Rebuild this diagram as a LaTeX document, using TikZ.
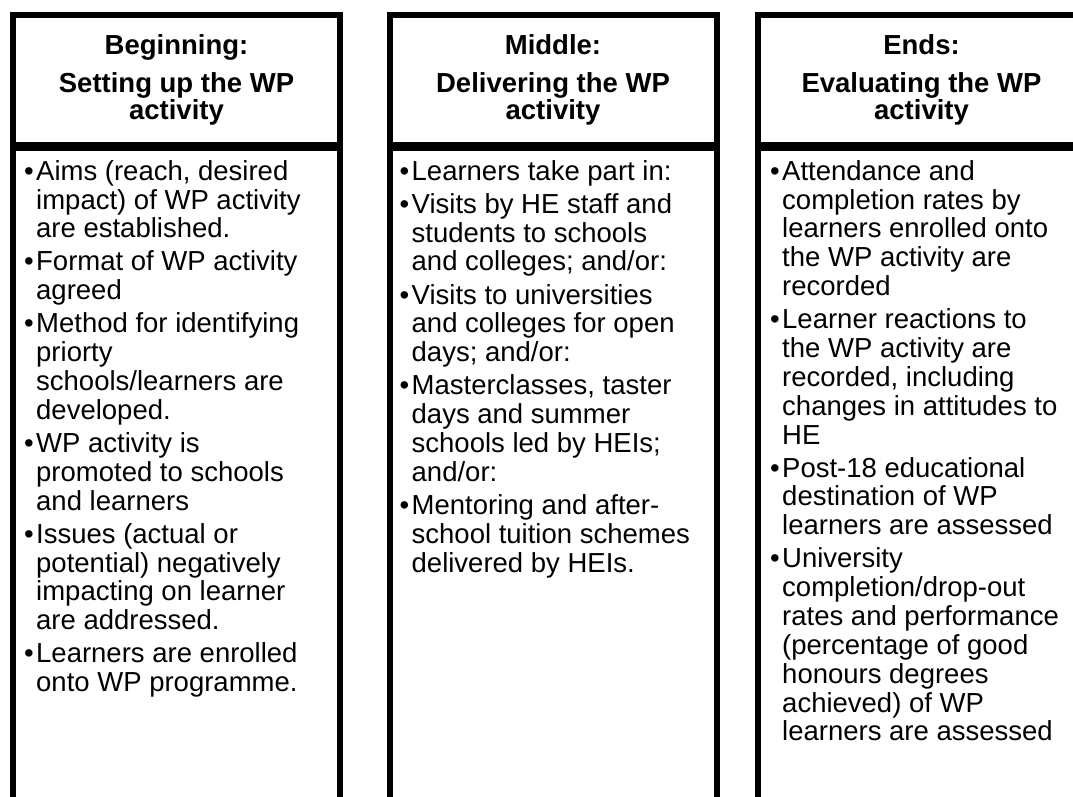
\documentclass[tikz,border=0pt]{standalone}
\usepackage{fontspec}
\setmainfont{Liberation Sans}
\usetikzlibrary{positioning}

\begin{document}
\begin{tikzpicture}[
    x=1pt, y=-1pt,
    % Define styles
    stagehead/.style={rectangle, draw=black, fill=white, line width=6pt, outer sep=0pt, inner sep=0pt, minimum width=327pt, minimum height=130pt, align=center, font=\fontsize{27.5}{27.5}\selectfont\bfseries},
    stagebody/.style={rectangle, draw=black, fill=white, line width=6pt, outer sep=0pt, minimum width=327pt, minimum height=700pt},
    itemlist/.style={anchor=north west, inner sep=0pt, align=left, font=\fontsize{27.5}{28.85}\selectfont}
]
\newcommand{\bul}{\llap{\textbullet\hspace{2.5pt}}}

\useasboundingbox (0,0) rectangle (1073,796);
\clip (0,0) rectangle (1073,796);

% Beginning column
\node[stagehead] (beginhead) at (176.5, 80) {Beginning:\\[10.5pt]Setting up the WP\\activity};
\node[stagebody, below=3pt of beginhead] (beginbody) {};
\node[itemlist, xshift=23pt, yshift=-11.8pt] (beginitems) at (beginbody.north west) {\strut\bul Aims (reach, desired\\
impact) of WP activity\\
are established.\\[4.2pt]
\bul Format of WP activity\\
agreed\\[4.2pt]
\bul Method for identifying\\
priorty\\
schools/learners are\\
developed.\\[4.2pt]
\bul WP activity is\\
promoted to schools\\
and learners\\[4.2pt]
\bul Issues (actual or\\
potential) negatively\\
impacting on learner\\
are addressed.\\[4.2pt]
\bul Learners are enrolled\\
onto WP programme.};

% Middle column
\node[stagehead] (middlehead) at (553, 80) {Middle:\\[10.5pt]Delivering the WP\\activity};
\node[stagebody, below=3pt of middlehead] (middlebody) {};
\node[itemlist, xshift=22pt, yshift=-11.8pt] (middleitems) at (middlebody.north west) {\strut\bul Learners take part in:\\[4.2pt]
\bul Visits by HE staff and\\
students to schools\\
and colleges; and/or:\\[4.2pt]
\bul Visits to universities\\
and colleges for open\\
days; and/or:\\[4.2pt]
\bul Masterclasses, taster\\
days and summer\\
schools led by HEIs;\\
and/or:\\[4.2pt]
\bul Mentoring and after-\\
school tuition schemes\\
delivered by HEIs.};

% Ends column
\node[stagehead] (endshead) at (921.5, 80) {Ends:\\[10.5pt]Evaluating the WP\\activity};
\node[stagebody, below=3pt of endshead] (endsbody) {};
\node[itemlist, xshift=24pt, yshift=-11.8pt] (endsitems) at (endsbody.north west) {\strut\bul Attendance and\\
completion rates by\\
learners enrolled onto\\
the WP activity are\\
recorded\\[4.2pt]
\bul Learner reactions to\\
the WP activity are\\
recorded, including\\
changes in attitudes to\\
HE\\[4.2pt]
\bul Post-18 educational\\
destination of WP\\
learners are assessed\\[4.2pt]
\bul University\\
completion/drop-out\\
rates and performance\\
(percentage of good\\
honours degrees\\
achieved) of WP\\
learners are assessed};

\end{tikzpicture}
\end{document}
